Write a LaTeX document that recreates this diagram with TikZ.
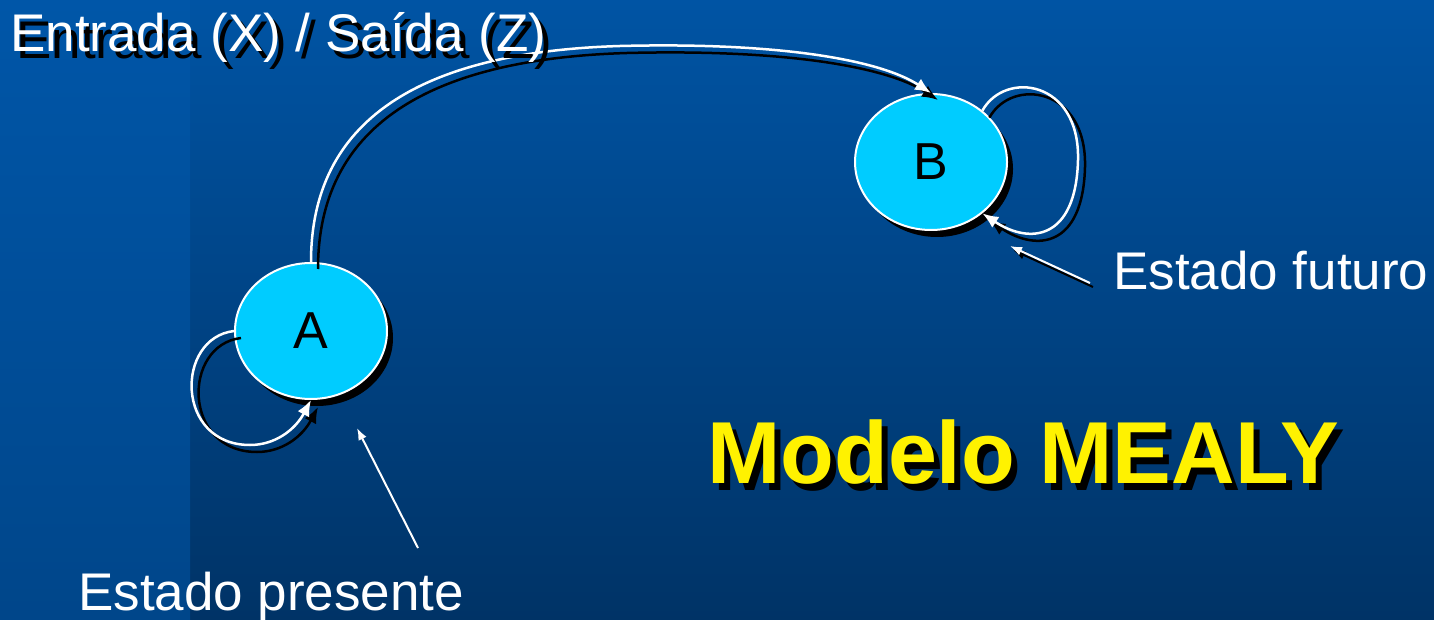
\documentclass[tikz,border=0pt]{standalone}
\usepackage{fontspec}
\setmainfont{Liberation Sans}
\usetikzlibrary{shapes.geometric,arrows.meta,shadows}
\definecolor{bgtop}{HTML}{0054A4}
\definecolor{bgbot}{HTML}{003366}
\definecolor{striptop}{HTML}{0056A8}
\definecolor{stripbot}{HTML}{00468A}
\definecolor{stcyan}{HTML}{00CCFF}
\newcommand\mealywires{%
  \draw[wire] (A.north) .. controls (311,120) and (420,52) .. (620,46)
     .. controls (780,42) and (880,60) .. (B.north);
  \draw[wire] (A.west) .. controls (175,338) and (175,445) .. (250,445)
     .. controls (275,445) and (295,430) .. (A.south);
  \draw[wire] (B.45) .. controls (1005,70) and (1080,80) .. (1078,160)
     .. controls (1076,240) and (1030,245) .. (B.-45);
}
\begin{document}
\begin{tikzpicture}[x=1pt,y=-1pt,
  state/.style={ellipse, draw=white, line width=2pt, fill=stcyan,
    minimum width=152pt, minimum height=136pt, inner sep=0pt,
    font=\fontsize{52}{60}\selectfont, text=black,
    general shadow={fill=black, shadow xshift=6pt, shadow yshift=-7pt}},
  wire/.style={line width=2.5pt, -{Latex[length=16pt,width=13pt]}},
  pointer/.style={line width=2pt, -{Latex[length=12pt,width=9pt]}},
  txt/.style={inner sep=0pt, anchor=base west, font=\fontsize{53}{60}\selectfont},
  big/.style={inner sep=0pt, anchor=base west, font=\fontsize{88}{96}\selectfont\bfseries}]
\useasboundingbox (0,0) rectangle (1434,620);
\shade[top color=bgtop, bottom color=bgbot] (0,0) rectangle (1434,620);
\shade[top color=striptop, bottom color=stripbot] (0,0) rectangle (190,620);

\node[state] (A) at (311,331) {A};
\node[state] (B) at (931,162) {B};

\coordinate (f1) at (1090,283);
\coordinate (f2) at (1010,246);
\coordinate (p1) at (418,548);
\coordinate (p2) at (357,428);

\begin{scope}[transform canvas={shift={(7pt,-7pt)}}, color=black]
  \mealywires
\end{scope}
\begin{scope}[transform canvas={shift={(3pt,-4pt)}}, color=black]
  \draw[pointer] (f1) -- (f2);
\end{scope}
\begin{scope}[color=white]
  \mealywires
  \draw[pointer] (f1) -- (f2);
  \draw[pointer] (p1) -- (p2);
\end{scope}

\node[txt, text=black] (titleS) at (16,59) {Entrada (X) / Saída (Z)};
\node[txt, text=white] (title) at (10,52) {Entrada (X) / Saída (Z)};
\node[txt, text=white] (fut) at (1113,290) {Estado futuro};
\node[txt, text=white] (pres) at (78,610) {Estado presente};
\node[big, text=black] (mealyS) at (713,490) {Modelo MEALY};
\node[big, text=yellow] (mealy) at (707,483) {Modelo MEALY};
\end{tikzpicture}
\end{document}
